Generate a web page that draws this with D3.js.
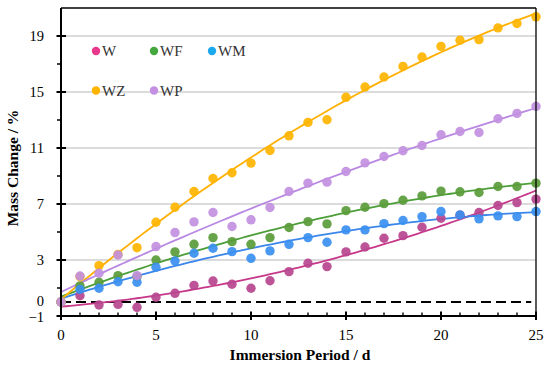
<!DOCTYPE html>
<html><head><meta charset="utf-8">
<script src="https://cdn.jsdelivr.net/npm/d3@7"></script>
<style>body{margin:0;background:#fff}svg{display:block}</style>
</head><body><svg id="c" width="550" height="366" font-family="'Liberation Serif', 'Times New Roman', serif"></svg>
<script>
const days = d3.range(0, 26);
const W  = [0, 0.45, -0.21, -0.17, -0.38, 0.34, 0.62, 1.19, 1.5, 1.27, 0.98, 1.52, 2.17, 2.77, 2.53, 3.58, 3.93, 4.55, 4.74, 5.34, 5.98, 6.2, 6.39, 6.89, 7.1, 7.35];
const WF = [0, 1.15, 1.41, 1.88, 1.8, 3.0, 3.58, 4.12, 4.6, 4.31, 4.12, 4.6, 5.32, 5.74, 5.58, 6.53, 6.77, 7.03, 7.27, 7.58, 7.92, 7.87, 7.82, 8.25, 8.25, 8.49];
const WM = [0, 0.9, 0.98, 1.45, 1.41, 2.48, 2.93, 3.48, 3.84, 3.6, 3.12, 3.65, 4.12, 4.6, 4.27, 5.15, 5.15, 5.6, 5.82, 6.1, 6.46, 6.22, 5.94, 6.15, 6.1, 6.46];
const WZ = [0, 1.8, 2.6, 3.4, 3.88, 5.7, 6.77, 7.89, 8.82, 9.23, 9.92, 10.82, 11.87, 12.83, 13.02, 14.62, 15.36, 16.07, 16.83, 17.5, 18.26, 18.7, 18.74, 19.58, 19.89, 20.37];
const WP = [0, 1.86, 2.05, 3.36, 1.88, 3.96, 4.96, 5.72, 6.39, 5.39, 5.87, 6.75, 7.89, 8.49, 8.56, 9.32, 9.94, 10.39, 10.8, 11.18, 11.95, 12.18, 12.11, 13.09, 13.47, 13.97];
const seriesNames = ["W", "WF", "WM", "WZ", "WP"];
const seriesValues = [W, WF, WM, WZ, WP];
const yTickLabels = [-1, 0, 3, 7, 11, 15, 19];
const yMinorTicks = [1, 5, 9, 13, 17];
const xTickLabels = [0, 5, 10, 15, 20, 25];

const legendColor = {W:"#e8388c", WF:"#45a83c", WM:"#1ca8ec", WZ:"#ffb400", WP:"#c490e2"};
const pointColor  = {W:"#b8458f", WF:"#5a9c3a", WM:"#3a8ff0", WZ:"#ffb400", WP:"#c290e0"};
const lineColor   = {W:"#c8388a", WF:"#4c9e38", WM:"#3a86ea", WZ:"#ffb000", WP:"#b888e2"};

const svg = d3.select("#c");
const x = d3.scaleLinear().domain([0, 25]).range([61, 536]);
const y = d3.scaleLinear().domain([-1, 21]).range([316, 8]);

// gridlines
svg.append("g").selectAll("line").data([3, 7, 11, 15, 19]).join("line")
  .attr("x1", x(0)).attr("x2", x(25)).attr("y1", d => y(d)).attr("y2", d => y(d))
  .attr("stroke", "#b8b8b8").attr("stroke-width", 1.2);

// zero dashed line
svg.append("line").attr("x1", x(0)).attr("x2", x(24.75)).attr("y1", y(0)).attr("y2", y(0))
  .attr("stroke", "#000").attr("stroke-width", 1.8).attr("stroke-dasharray", "10,5");

// quadratic least-squares trend lines
function quadFit(xs, ys) {
  let S = [0,0,0,0,0], T = [0,0,0];
  xs.forEach((xi, i) => {
    for (let k = 0; k < 5; k++) S[k] += Math.pow(xi, k);
    for (let k = 0; k < 3; k++) T[k] += ys[i] * Math.pow(xi, k);
  });
  const A = [[S[0],S[1],S[2],T[0]],[S[1],S[2],S[3],T[1]],[S[2],S[3],S[4],T[2]]];
  for (let i = 0; i < 3; i++) {
    for (let j = i + 1; j < 3; j++) {
      const f = A[j][i] / A[i][i];
      for (let k = i; k < 4; k++) A[j][k] -= f * A[i][k];
    }
  }
  const c = [0,0,0];
  for (let i = 2; i >= 0; i--) {
    let s = A[i][3];
    for (let k = i + 1; k < 3; k++) s -= A[i][k] * c[k];
    c[i] = s / A[i][i];
  }
  return t => c[0] + c[1]*t + c[2]*t*t;
}

const line = d3.line().x(d => x(d[0])).y(d => y(d[1]));
const fine = d3.range(0, 25.001, 0.25);
seriesNames.forEach((name, si) => {
  const f = quadFit(days, seriesValues[si]);
  svg.append("path").datum(fine.map(t => [t, f(t)])).attr("d", line)
    .attr("fill", "none").attr("stroke", lineColor[name]).attr("stroke-width", 1.8);
});
seriesNames.forEach((name, si) => {
  svg.append("g").selectAll("circle").data(seriesValues[si]).join("circle")
    .attr("cx", (d, i) => x(days[i])).attr("cy", d => y(d)).attr("r", 4.7)
    .attr("fill", pointColor[name]).attr("fill-opacity", 0.92);
});

// frame
svg.append("line").attr("x1", x(0)).attr("x2", x(25)).attr("y1", y(21)).attr("y2", y(21)).attr("stroke", "#000").attr("stroke-width", 1.3);
svg.append("line").attr("x1", x(25)).attr("x2", x(25)).attr("y1", y(21)).attr("y2", y(-1)).attr("stroke", "#000").attr("stroke-width", 1.3);

// y axis
const yAxis = svg.append("g");
yAxis.append("line").attr("x1", x(0)).attr("x2", x(0)).attr("y1", y(21)).attr("y2", y(-1)).attr("stroke", "#000").attr("stroke-width", 2);
yAxis.selectAll(".maj").data([-1, 3, 7, 11, 15, 19]).join("line")
  .attr("x1", x(0) - 4.5).attr("x2", x(0) + 5).attr("y1", d => y(d)).attr("y2", d => y(d))
  .attr("stroke", "#000").attr("stroke-width", 2);
yAxis.selectAll(".min").data(yMinorTicks).join("line")
  .attr("x1", x(0) - 4).attr("x2", x(0)).attr("y1", d => y(d)).attr("y2", d => y(d))
  .attr("stroke", "#000").attr("stroke-width", 1.5);
yAxis.selectAll("text").data(yTickLabels).join("text")
  .attr("x", 44).attr("y", d => y(d)).attr("dy", d => d === 0 ? "0.28em" : (d === -1 ? "0.42em" : "0.35em"))
  .attr("text-anchor", "end")
  .attr("font-size", 14.5).text(d => d < 0 ? "\u2212" + Math.abs(d) : d);

// x axis
const xAxis = svg.append("g");
xAxis.append("line").attr("x1", x(0)).attr("x2", x(25)).attr("y1", y(-1)).attr("y2", y(-1)).attr("stroke", "#000").attr("stroke-width", 2);
xAxis.selectAll(".min").data(d3.range(1, 25).filter(d => d % 5)).join("line")
  .attr("x1", d => x(d)).attr("x2", d => x(d)).attr("y1", y(-1)).attr("y2", y(-1) - 3.5)
  .attr("stroke", "#000").attr("stroke-width", 1.4);
xAxis.selectAll(".maj").data(xTickLabels).join("line")
  .attr("x1", d => x(d)).attr("x2", d => x(d)).attr("y1", y(-1) - 4.5).attr("y2", y(-1) + 4)
  .attr("stroke", "#000").attr("stroke-width", 2);
xAxis.selectAll("text").data(xTickLabels).join("text")
  .attr("x", d => x(d)).attr("y", 340).attr("text-anchor", "middle")
  .attr("font-size", 15).text(d => d);

// axis titles
svg.append("text").attr("x", 300).attr("y", 360).attr("text-anchor", "middle")
  .attr("font-size", 15.5).attr("font-weight", "bold").text("Immersion Period / d");
svg.append("text").attr("transform", "translate(18,168) rotate(-90)").attr("text-anchor", "middle")
  .attr("font-size", 15.5).attr("font-weight", "bold").text("Mass Change / %");

// legend
const legPos = [[96, 51], [154, 51], [212, 51], [96, 90.5], [154, 90.5]];
seriesNames.forEach((name, i) => {
  const g = svg.append("g").attr("transform", `translate(${legPos[i][0]},${legPos[i][1]})`);
  g.append("circle").attr("r", 4.2).attr("fill", legendColor[name]);
  g.append("text").attr("x", 6).attr("dy", "0.35em").attr("font-size", 15).attr("fill", "#333").text(name);
});
</script></body></html>
